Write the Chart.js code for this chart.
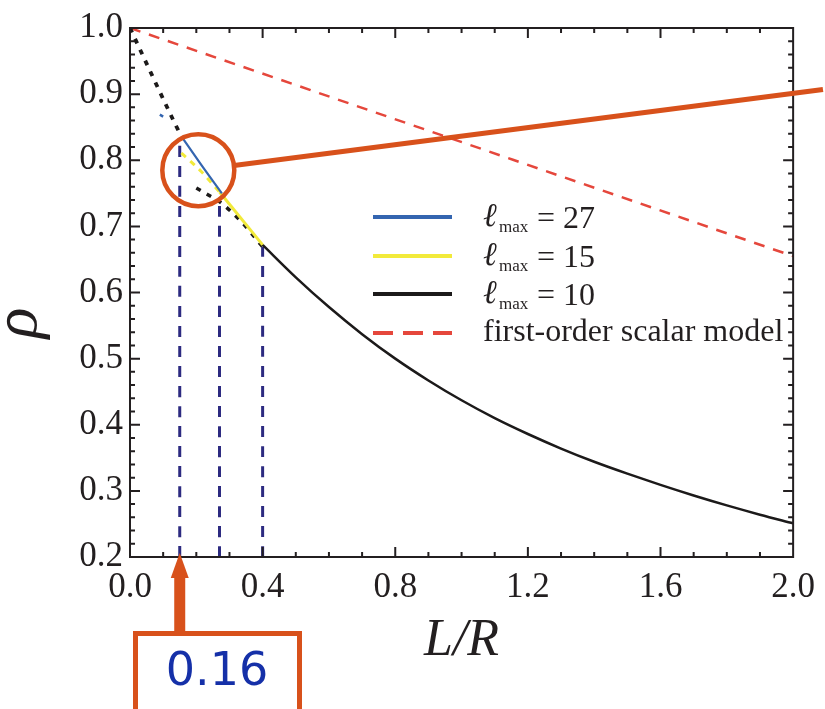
<!DOCTYPE html>
<html lang="en">
<head>
<meta charset="UTF-8">
<title>rho vs L/R</title>
<script src="https://cdn.jsdelivr.net/npm/chart.js"></script>
<style>
    body { margin: 0; background: #ffffff; }
</style>
</head>
<body>
<canvas id="rhoChart" width="825" height="709"></canvas>
<script>
// values
const xTicks = [0, 0.4, 0.8, 1.2, 1.6, 2.0];
const yTicks = [0.2, 0.3, 0.4, 0.5, 0.6, 0.7, 0.8, 0.9, 1.0];

// l_max = 10 (solid part and the two dotted parts)
const l10X = [0.4, 0.5, 0.6, 0.7, 0.8, 0.9, 1.0, 1.1, 1.2, 1.3, 1.4, 1.5, 1.6, 1.7, 1.8, 1.9, 2.0];
const l10Y = [0.672, 0.623, 0.578, 0.537, 0.500, 0.467, 0.437, 0.410, 0.386, 0.364, 0.344, 0.326, 0.309, 0.293, 0.278, 0.264, 0.251];
const l10DotX = [0, 0.135, 0.155];
const l10DotY = [1.0, 0.856, 0.836];
const l10Dot2X = [0.2, 0.235, 0.271, 0.336, 0.4];
const l10Dot2Y = [0.758, 0.748, 0.737, 0.707, 0.669];

// l_max = 15
const l15X = [0.27, 0.4];
const l15Y = [0.752, 0.672];
const l15DotX = [0.155, 0.215, 0.27];
const l15DotY = [0.811, 0.783, 0.752];

// l_max = 27
const l27X = [0.155, 0.215, 0.277];
const l27Y = [0.836, 0.793, 0.750];
const l27DotX = [0.09, 0.1];
const l27DotY = [0.869, 0.866];

// first-order scalar model
const scalarX = [0, 2.0];
const scalarY = [1.0, 0.655];

// vertical markers
const markerX = [0.15, 0.27, 0.40];
const markerTop = [0.834, 0.743, 0.669];

const highlightText = '0.16';
const legendValues = ['27', '15', '10'];
const legendScalar = 'first-order scalar model';

const BLUE = '#3465b0';
const YELLOW = '#f2ea3a';
const BLACK = '#1c1a1a';
const RED = '#e5473c';
const NAVY = '#2c2a80';
const ORANGE = '#d8511b';
const TEXT = '#231f20';

const pts = (xs, ys) => xs.map((x, i) => ({ x: x, y: ys[i] }));

function line(data, color, width, dash) {
    return {
        data: data,
        borderColor: color,
        borderWidth: width,
        borderDash: dash || [],
        pointRadius: 0,
        fill: false,
        cubicInterpolationMode: 'monotone'
    };
}

const datasets = [
    line(pts(l27X, l27Y), BLUE, 2.2),
    line(pts(l27DotX, l27DotY), BLUE, 2.5),
    line(pts(l15X, l15Y), YELLOW, 3),
    line(pts(l15DotX, l15DotY), YELLOW, 3, [6, 6]),
    line(pts(l10X, l10Y), BLACK, 2.5),
    line(pts(l10DotX, l10DotY), BLACK, 3.8, [5, 7]),
    line(pts(l10Dot2X, l10Dot2Y), BLACK, 3.5, [5, 7]),
    line(pts(scalarX, scalarY), RED, 2.5, [11, 9])
];
markerX.forEach((x, i) => {
    datasets.push(line([{ x: x, y: 0.2 }, { x: x, y: markerTop[i] }], NAVY, 3, [11, 9]));
});

// frame, inward ticks, rho label, legend and the orange call-out
const decorations = {
    id: 'decorations',
    afterDraw(chart) {
        const ctx = chart.ctx;
        const xs = chart.scales.x, ys = chart.scales.y;
        const a = chart.chartArea;
        ctx.save();

        // ticks
        ctx.strokeStyle = TEXT;
        ctx.lineWidth = 2;
        ctx.beginPath();
        for (let i = 1; i < 40; i++) {
            const py = ys.getPixelForValue(0.2 + i * 0.02);
            const len = i % 5 === 0 ? 10 : 5;
            ctx.moveTo(a.left, py); ctx.lineTo(a.left + len, py);
            ctx.moveTo(a.right, py); ctx.lineTo(a.right - len, py);
        }
        for (let i = 1; i < 20; i++) {
            const px = xs.getPixelForValue(i * 0.1);
            const len = i % 4 === 0 ? 10 : 5;
            ctx.moveTo(px, a.bottom); ctx.lineTo(px, a.bottom - len);
            ctx.moveTo(px, a.top); ctx.lineTo(px, a.top + len);
        }
        ctx.stroke();
        ctx.strokeRect(a.left, a.top, a.right - a.left, a.bottom - a.top);

        // y axis title
        ctx.save();
        ctx.translate(19, 323);
        ctx.rotate(-Math.PI / 2);
        ctx.fillStyle = TEXT;
        ctx.font = 'italic 64px "Liberation Serif"';
        ctx.textAlign = 'center';
        ctx.textBaseline = 'middle';
        ctx.fillText('\u03c1', 0, 0);
        ctx.restore();

        // legend
        const legendColors = [BLUE, YELLOW, BLACK];
        const rowY = [217, 256, 294, 333];
        ctx.lineWidth = 4;
        legendValues.forEach((v, i) => {
            ctx.strokeStyle = legendColors[i];
            ctx.setLineDash([]);
            ctx.beginPath(); ctx.moveTo(373, rowY[i]); ctx.lineTo(452, rowY[i]); ctx.stroke();
            ctx.fillStyle = TEXT;
            ctx.textBaseline = 'alphabetic';
            ctx.textAlign = 'left';
            ctx.font = 'italic 33px "Liberation Serif"';
            ctx.fillText('\u2113', 483, rowY[i] + 9);
            ctx.font = '17px "Liberation Serif"';
            ctx.fillText('max', 499, rowY[i] + 15);
            ctx.font = '32px "Liberation Serif"';
            ctx.fillText('= ' + v, 537, rowY[i] + 11);
        });
        ctx.strokeStyle = RED;
        ctx.setLineDash([20, 10]);
        ctx.beginPath(); ctx.moveTo(373, rowY[3]); ctx.lineTo(452, rowY[3]); ctx.stroke();
        ctx.setLineDash([]);
        ctx.font = '32px "Liberation Serif"';
        ctx.fillText(legendScalar, 483, rowY[3] + 8);

        // call-out circle and line
        const cx = xs.getPixelForValue(0.206), cy = ys.getPixelForValue(0.785);
        const ex = xs.getPixelForValue(2.09), ey = ys.getPixelForValue(0.907);
        const r = 36;
        const ang = Math.atan2(ey - cy, ex - cx);
        ctx.strokeStyle = ORANGE;
        ctx.lineWidth = 4.5;
        ctx.beginPath(); ctx.arc(cx, cy, r, 0, Math.PI * 2); ctx.stroke();
        ctx.lineWidth = 5;
        ctx.beginPath();
        ctx.moveTo(cx + r * Math.cos(ang), cy + r * Math.sin(ang));
        ctx.lineTo(ex, ey);
        ctx.stroke();

        // arrow and box
        const axp = xs.getPixelForValue(markerX[0]);
        const tip = a.bottom - 4;
        ctx.fillStyle = ORANGE;
        ctx.beginPath();
        ctx.moveTo(axp, tip);
        ctx.lineTo(axp + 9, tip + 25);
        ctx.lineTo(axp - 9, tip + 25);
        ctx.closePath();
        ctx.fill();
        ctx.fillRect(axp - 5.5, tip + 24, 11, 56);
        ctx.lineWidth = 5;
        ctx.strokeRect(135.5, 633.5, 164, 100);
        ctx.fillStyle = '#1530a8';
        ctx.font = '46px "DejaVu Sans"';
        ctx.textAlign = 'center';
        ctx.textBaseline = 'middle';
        ctx.fillText(highlightText, 217, 673);

        ctx.restore();
    }
};

new Chart(document.getElementById('rhoChart'), {
    type: 'line',
    data: { datasets: datasets },
    options: {
        responsive: false,
        animation: false,
        layout: { padding: { top: 28, right: 30, left: 0, bottom: 0 } },
        plugins: { legend: { display: false }, tooltip: { enabled: false } },
        scales: {
            x: {
                type: 'linear',
                min: 0, max: 2.0,
                afterFit: s => { s.height = 152; },
                afterBuildTicks: s => { s.ticks = xTicks.map(v => ({ value: v })); },
                grid: { display: false, drawTicks: false },
                border: { display: false },
                ticks: {
                    padding: 10,
                    color: TEXT,
                    font: { family: 'Liberation Serif', size: 35 },
                    callback: v => v.toFixed(1)
                },
                title: {
                    display: true,
                    text: 'L/R',
                    color: TEXT,
                    font: { family: 'Liberation Serif', size: 52, style: 'italic' },
                    padding: { top: 0, bottom: 36 }
                }
            },
            y: {
                type: 'linear',
                min: 0.2, max: 1.0,
                afterFit: s => { s.width = 130; },
                afterBuildTicks: s => { s.ticks = yTicks.map(v => ({ value: v })); },
                grid: { display: false, drawTicks: false },
                border: { display: false },
                ticks: {
                    padding: 7,
                    color: TEXT,
                    font: { family: 'Liberation Serif', size: 35 },
                    callback: v => v.toFixed(1)
                }
            }
        }
    },
    plugins: [decorations]
});
</script>
</body>
</html>
